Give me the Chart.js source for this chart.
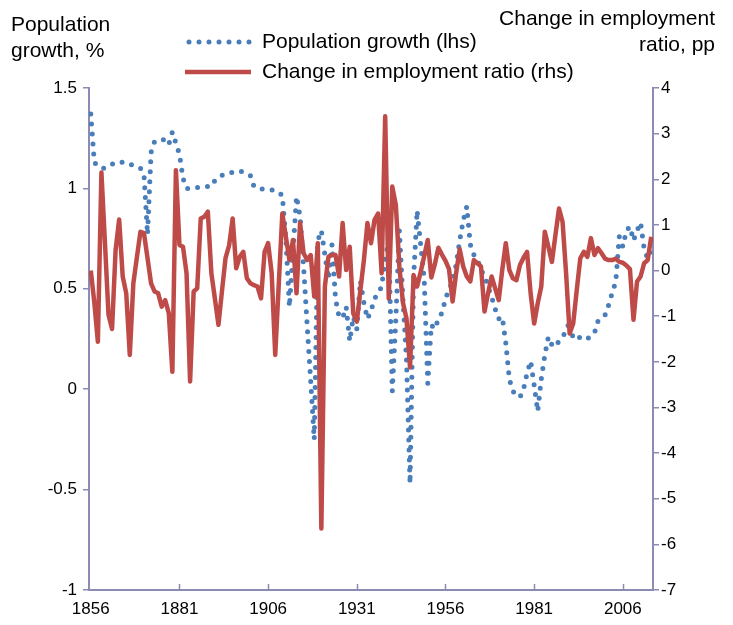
<!DOCTYPE html>
<html>
<head>
<meta charset="utf-8">
<script src="https://cdn.jsdelivr.net/npm/chart.js@4.4.1/dist/chart.umd.min.js"></script>
<style>
  html, body { margin:0; padding:0; background:#fff; }
  #wrap { width:733px; height:625px; }
</style>
</head>
<body>
<div id="wrap"><canvas id="c" width="733" height="625"></canvas></div>
<script>
// yearly data 1856-2014
const startYear = 1856;
const years = Array.from({length:159}, (_,i)=> startYear + i);
const xTickYears = [1856, 1881, 1906, 1931, 1956, 1981, 2006];

// population growth, % (lhs)
const popGrowth = [
  1.37, 1.13, 1.11, 1.10, 1.10, 1.11, 1.12, 1.13, 1.13, 1.13,
  1.12, 1.12, 1.115, 1.11, 1.10, 1.07, 0.77, 1.18, 1.235, 1.24,
  1.24, 1.245, 1.22, 1.28, 1.225, 1.17, 1.05, 1.00, 1.00, 1.00,
  1.005, 1.005, 1.008, 1.01, 1.01, 1.04, 1.058, 1.065, 1.073, 1.078,
  1.08, 1.085, 1.087, 1.08, 1.07, 1.063, 1.009, 1.0, 0.998, 0.995,
  0.995, 0.993, 0.99, 0.98, 0.965, 0.75, 0.41, 0.68, 0.96, 0.86,
  0.61, 0.32, 0.04, -0.25, 0.74, 0.79, 0.67, 0.55, 0.72, 0.45,
  0.36, 0.355, 0.41, 0.24, 0.36, 0.30, 0.54, 0.43, 0.35, 0.39,
  0.45, 0.48, 0.51, 0.65, 0.74, -0.01, 0.35, 0.79, 0.45, 0.15,
  -0.47, 0.55, 0.89, 0.72, 0.55, 0.03, 0.32, 0.30, 0.35, 0.38,
  0.45, 0.50, 0.535, 0.62, 0.74, 0.84, 0.91, 0.72, 0.67, 0.65,
  0.59, 0.57, 0.51, 0.46, 0.40, 0.35, 0.36, 0.23, 0.05, -0.01,
  -0.03, -0.04, 0.0, 0.08, 0.14, 0.02, -0.11, 0.05, 0.17, 0.26,
  0.22, 0.21, 0.24, 0.26, 0.29, 0.34, 0.25, 0.25, 0.26, 0.26,
  0.25, 0.27, 0.28, 0.34, 0.36, 0.37, 0.42, 0.48, 0.535, 0.76,
  0.71, 0.79, 0.81, 0.74, 0.79, 0.83, 0.70, 0.65, 0.70
];

// change in employment ratio, pp (rhs)
const empRatioChange = [
  0.0, -0.7, -1.56, 2.15, 0.6, -0.97, -1.28, 0.45, 1.12, -0.13,
  -0.5, -1.85, -0.28, 0.29, 0.85, 0.82, 0.27, -0.28, -0.46, -0.5,
  -0.79, -0.65, -0.94, -2.22, 2.2, 0.56, 0.52, -0.06, -2.43, -0.46,
  -0.39, 1.14, 1.18, 1.29, -0.06, -0.62, -1.19, -0.44, 0.28, 0.55,
  1.14, 0.05, 0.3, 0.41, -0.17, -0.28, -0.32, -0.35, -0.61, 0.41,
  0.6, -0.06, -1.85, -0.3, 1.25, 0.74, 0.23, 0.67, -0.5, 1.04,
  0.38, 0.23, 0.34, -0.57, 0.6, -5.65, -0.35, 0.3, 0.34, 0.34,
  -0.13, 1.04, 0.01, 0.52, -0.94, -1.12, -0.43, 0.23, 1.04, 0.6,
  1.11, 1.25, -0.06, 3.38, -0.61, 1.84, 1.44, 0.08, -0.7, -1.05,
  -2.12, -0.1, -0.35, -0.03, 0.32, 0.67, -0.15, 0.14, 0.5, 0.35,
  0.21, 0.03, -0.68, -0.06, 0.47, 0.09, -0.13, -0.24, 0.23, 0.16,
  0.09, -0.9, -0.5, -0.13, -0.39, -0.65, 0.01, 0.6, 0.01, -0.17,
  -0.21, 0.12, 0.28, 0.41, -0.5, -1.16, -0.72, -0.35, 0.85, 0.52,
  0.19, 0.78, 1.36, 1.07, -0.06, -1.38, -1.16, -0.43, 0.27, 0.41,
  0.30, 0.71, 0.34, 0.49, 0.38, 0.26, 0.23, 0.23, 0.26, 0.19,
  0.17, 0.11, 0.03, -1.08, -0.24, -0.13, 0.16, 0.23, 0.74
];

const seriesLabels = ['Population growth (lhs)', 'Change in employment ratio (rhs)'];
const leftTitle = ['Population', 'growth, %'];
const rightTitle = ['Change in employment', 'ratio, pp'];

const BLUE = '#4a7ebb', RED = '#be4b48', AXIS = '#8b8bb3';
const FONT = '"Liberation Sans", Arial, sans-serif';

// titles, legend and the inward x ticks
const overlay = {
  id:'overlay',
  afterDraw(chart){
    const ctx = chart.ctx;
    ctx.save();
    ctx.fillStyle = '#000';
    ctx.font = '21px ' + FONT;
    ctx.textBaseline = 'middle';
    ctx.textAlign = 'left';
    ctx.fillText(leftTitle[0], 11, 25);
    ctx.fillText(leftTitle[1], 11, 51);
    ctx.textAlign = 'right';
    ctx.fillText(rightTitle[0], 715, 19);
    ctx.fillText(rightTitle[1], 715, 45);
    ctx.textAlign = 'left';
    ctx.fillText(seriesLabels[0], 262, 42);
    ctx.fillText(seriesLabels[1], 262, 72);
    // legend samples
    ctx.lineCap = 'round';
    ctx.strokeStyle = BLUE; ctx.lineWidth = 5; ctx.setLineDash([0, 10]);
    ctx.beginPath(); ctx.moveTo(189, 42); ctx.lineTo(250, 42); ctx.stroke();
    ctx.setLineDash([]); ctx.lineCap = 'butt';
    ctx.strokeStyle = RED; ctx.lineWidth = 4.5;
    ctx.beginPath(); ctx.moveTo(185, 72); ctx.lineTo(251, 72); ctx.stroke();
    // x ticks pointing up
    const xs = chart.scales.x, b = chart.chartArea.bottom;
    ctx.strokeStyle = AXIS; ctx.lineWidth = 1.5;
    xTickYears.slice(1).forEach(v=>{
      const px = Math.round(xs.getPixelForValue(v)) + 0.5;
      ctx.beginPath(); ctx.moveTo(px, b); ctx.lineTo(px, b - 6); ctx.stroke();
    });
    ctx.restore();
  }
};

const tickFont = { family: FONT, size: 17 };

new Chart(document.getElementById('c').getContext('2d'), {
  type:'line',
  data:{
    datasets:[
      { label:seriesLabels[0], data: years.map((yr,i)=>({x:yr, y:popGrowth[i]})), yAxisID:'y',
        borderColor:BLUE, borderWidth:5, borderDash:[0, 10], borderCapStyle:'round',
        pointRadius:0, fill:false, tension:0, order:1 },
      { label:seriesLabels[1], data: years.map((yr,i)=>({x:yr, y:empRatioChange[i]})), yAxisID:'y1',
        borderColor:RED, borderWidth:4.5, borderJoinStyle:'round',
        pointRadius:0, fill:false, tension:0, order:0 }
    ]
  },
  options:{
    responsive:false, animation:false, devicePixelRatio:1,
    layout:{ padding:{ top:88, left:0, right:0, bottom:0 } },
    plugins:{ legend:{ display:false }, tooltip:{ enabled:false } },
    scales:{
      x:{ type:'linear', min:1855.5, max:2014.5,
        afterBuildTicks: s => { s.ticks = xTickYears.map(v=>({value:v})); },
        afterFit: s => { s.height = 35; },
        ticks:{ color:'#000', font:tickFont, padding:9, maxRotation:0, autoSkip:false, callback: v => String(v) },
        grid:{ display:true, drawOnChartArea:false, drawTicks:false, color:AXIS },
        border:{ color:AXIS, width:2 } },
      y:{ position:'left', min:-1, max:1.5,
        afterFit: s => { s.width = 89; },
        ticks:{ stepSize:0.5, color:'#000', font:tickFont, padding:6, callback: v => String(+v.toFixed(1)) },
        grid:{ drawOnChartArea:false, drawTicks:true, tickLength:6, color:AXIS, lineWidth:1.5 },
        border:{ color:AXIS, width:2 } },
      y1:{ position:'right', min:-7, max:4,
        afterFit: s => { s.width = 80; },
        ticks:{ stepSize:1, color:'#000', font:tickFont, padding:2, callback: v => String(v) },
        grid:{ drawOnChartArea:false, drawTicks:true, tickLength:6, color:AXIS, lineWidth:1.5 },
        border:{ color:AXIS, width:2 } }
    }
  },
  plugins:[overlay]
});
</script>
</body>
</html>
